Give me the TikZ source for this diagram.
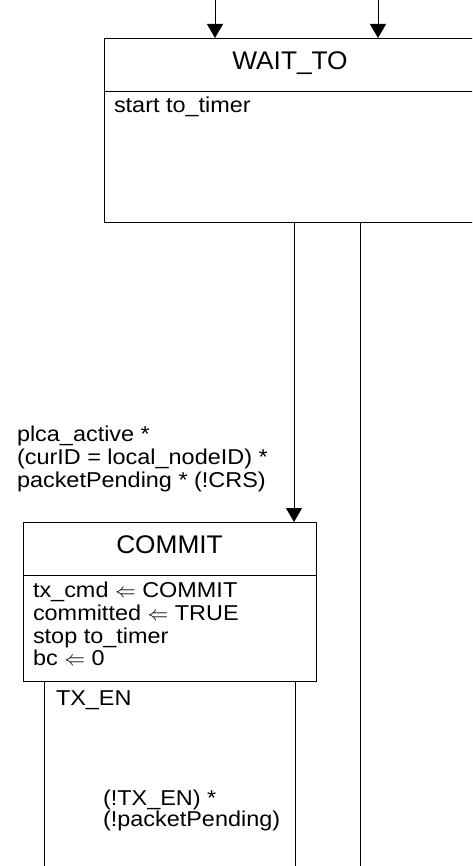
\documentclass[tikz,border=0pt]{standalone}
\usepackage{fontspec}
\setmainfont{Liberation Sans}
\newfontfamily\bodyfont[FakeStretch=1.09]{Liberation Sans}
\newfontfamily\titlefont[FakeStretch=1.03]{Liberation Sans}
\usetikzlibrary{arrows.meta}
\begin{document}
\begin{tikzpicture}[x=1pt,y=-1pt,
  every node/.style={inner sep=0pt, outer sep=0pt},
  statebox/.style={draw, line width=0.9pt, anchor=north west},
  title/.style={anchor=base, font=\titlefont\fontsize{25.5}{30}\selectfont},
  body/.style={anchor=base west, font=\bodyfont\fontsize{21.5}{23.5}\selectfont},
  line/.style={line width=0.9pt},
  arr/.style={line width=0.9pt, -{Triangle[width=16pt,length=14pt]}}
]
\useasboundingbox (0,0) rectangle (472,866);
\clip (0,0) rectangle (472,866);

% WAIT_TO state
\node[statebox, minimum width=380pt, minimum height=184pt] (wait) at (104,38) {};
\draw[line] (104,91) -- (484,91);
\node[title] (waitT) at (290,70) {WAIT\_TO};
\node[body] (waitA) at (114,113) {start to\_timer};

% COMMIT state
\node[statebox, minimum width=293pt, minimum height=159pt] (commit) at (23,522) {};
\draw[line] (23,575) -- (316,575);
\node[title] (commitT) at (169.5,553) {COMMIT};
\node[body] (commitA) at (33,597) {tx\_cmd $\Leftarrow$ COMMIT};
\node[body] (commitB) at (33,620) {committed $\Leftarrow$ TRUE};
\node[body] (commitC) at (33,643) {stop to\_timer};
\node[body] (commitD) at (33,665) {bc $\Leftarrow$ 0};

% incoming arrows
\coordinate (in1) at (215,0);
\coordinate (in2) at (378,0);
\draw[arr] (in1) -- (in1 |- wait.north);
\draw[arr] (in2) -- (in2 |- wait.north);

% WAIT_TO -> COMMIT
\coordinate (t1) at (294,300);
\draw[arr] (wait.south -| t1) -- (commit.north -| t1);
\node[body] (lab1a) at (17,441) {plca\_active *};
\node[body] (lab1b) at (17,464) {(curID = local\_nodeID) *};
\node[body] (lab1c) at (17,487) {packetPending * (!CRS)};

% other exits
\coordinate (out2) at (360,866);
\draw[line] (wait.south -| out2) -- (out2);
\coordinate (out3) at (44,866);
\draw[line] (commit.south -| out3) -- (out3);
\coordinate (out4) at (295,866);
\draw[line] (commit.south -| out4) -- (out4);
\node[body] (lab2) at (56,705) {TX\_EN};
\node[body] (lab3a) at (103,805) {(!TX\_EN) *};
\node[body] (lab3b) at (103,826) {(!packetPending)};
\end{tikzpicture}
\end{document}
